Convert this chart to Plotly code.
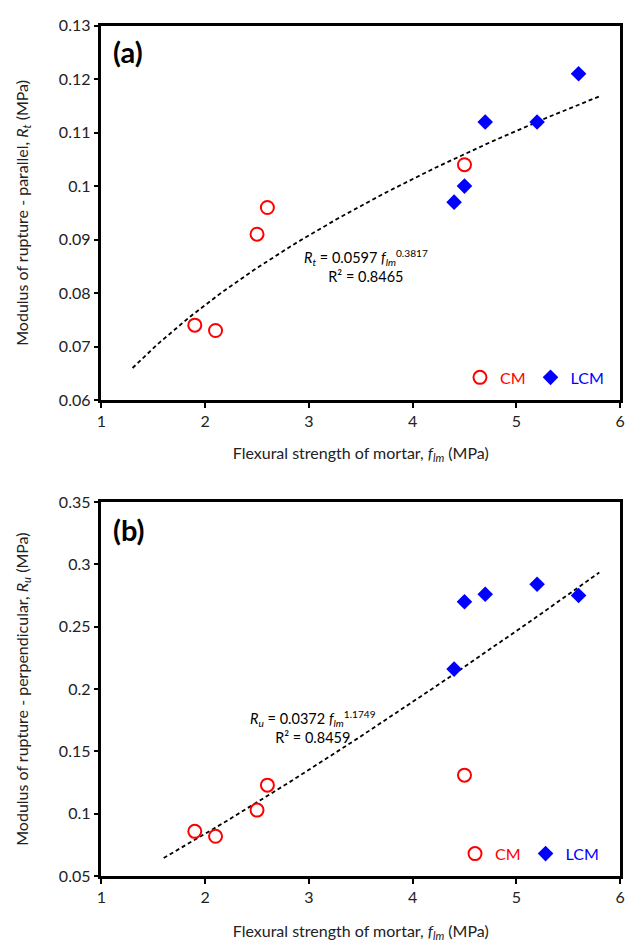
import numpy as np
import plotly.graph_objects as go

# Flexural strength of mortar (MPa)
cm_flm = [1.9, 2.1, 2.5, 2.6, 4.5]
lcm_flm = [4.4, 4.5, 4.7, 5.2, 5.6]

# (a) modulus of rupture parallel to bed joints, Rt (MPa)
cm_rt = [0.074, 0.073, 0.091, 0.096, 0.104]
lcm_rt = [0.097, 0.100, 0.112, 0.112, 0.121]

# (b) modulus of rupture perpendicular to bed joints, Ru (MPa)
cm_ru = [0.086, 0.082, 0.103, 0.123, 0.131]
lcm_ru = [0.216, 0.270, 0.276, 0.284, 0.275]

# power-law fits  R = a * f_lm ** b
fit_a = {"coef": 0.0597, "exp": 0.3817, "r2": 0.8465, "xmin": 1.3, "xmax": 5.8}
fit_b = {"coef": 0.0372, "exp": 1.1749, "r2": 0.8459, "xmin": 1.6, "xmax": 5.8}

FONT = "Lato, 'Open Sans', sans-serif"
RED = "#ff0000"
BLUE = "#0000ff"
W, H = 629, 946

fig = go.Figure()


def add_panel(xref, yref, cm_y, lcm_y, fit, legend):
    xs = np.linspace(fit["xmin"], fit["xmax"], 120)
    fig.add_trace(go.Scatter(
        x=xs, y=fit["coef"] * xs ** fit["exp"], mode="lines",
        line=dict(color="black", width=1.8, dash="4px,3px"),
        showlegend=False, xaxis=xref, yaxis=yref, hoverinfo="skip"))
    fig.add_trace(go.Scatter(
        x=cm_flm, y=cm_y, mode="markers",
        name=f"<span style='color:{RED}'>CM</span>",
        marker=dict(symbol="circle-open", size=13, color=RED, line=dict(width=2, color=RED)),
        xaxis=xref, yaxis=yref, legend=legend))
    fig.add_trace(go.Scatter(
        x=lcm_flm, y=lcm_y, mode="markers",
        name=f"<span style='color:{BLUE}'>LCM</span>",
        marker=dict(symbol="diamond", size=12, color=BLUE),
        xaxis=xref, yaxis=yref, legend=legend))


add_panel("x", "y", cm_rt, lcm_rt, fit_a, "legend")
add_panel("x2", "y2", cm_ru, lcm_ru, fit_b, "legend2")

x_dom = [98 / W, 625 / W]
top_dom = [1 - 398 / H, 1 - 16 / H]
bot_dom = [1 - 884 / H, 1 - 502 / H]

axis_common = dict(
    showline=True, linecolor="black", linewidth=2.5, mirror=True,
    ticks="outside", ticklen=5, tickwidth=2, tickcolor="black",
    showgrid=False, zeroline=False, ticklabeloverflow="allow",
    tickfont=dict(family=FONT, size=16, color="#222"),
    title_font=dict(family=FONT, size=16, color="#222"),
)

xtitle = "Flexural strength of mortar, <i>f<sub>lm</sub></i> (MPa)"

fig.update_layout(
    width=W, height=H,
    margin=dict(l=0, r=0, t=0, b=0),
    plot_bgcolor="white", paper_bgcolor="white",
    font=dict(family=FONT, color="#222"),
    xaxis=dict(axis_common, domain=x_dom, anchor="y", range=[1, 6], dtick=1,
               title=dict(text=xtitle, standoff=19)),
    yaxis=dict(axis_common, domain=top_dom, anchor="x", range=[0.06, 0.13], dtick=0.01,
               title=dict(text="Modulus of rupture - parallel, <i>R<sub>t</sub></i> (MPa)", standoff=27)),
    xaxis2=dict(axis_common, domain=x_dom, anchor="y2", range=[1, 6], dtick=1,
                title=dict(text=xtitle, standoff=21)),
    yaxis2=dict(axis_common, domain=bot_dom, anchor="x2", range=[0.05, 0.35], dtick=0.05,
                title=dict(text="Modulus of rupture - perpendicular, <i>R<sub>u</sub></i> (MPa)", standoff=27)),
    legend=dict(orientation="h", x=0.735, y=top_dom[0] + 0.006, xanchor="left", yanchor="bottom",
                bgcolor="rgba(0,0,0,0)", itemwidth=30,
                font=dict(family=FONT, size=16)),
    legend2=dict(orientation="h", x=0.727, y=bot_dom[0] + 0.006, xanchor="left", yanchor="bottom",
                 bgcolor="rgba(0,0,0,0)", itemwidth=30,
                 font=dict(family=FONT, size=16)),
)

annotations = [
    dict(text="<b>(a)</b>", x=0.018, y=0.932, xref="x domain", yref="y domain",
         showarrow=False, xanchor="left", yanchor="middle",
         font=dict(family=FONT, size=29, color="black")),
    dict(text="<b>(b)</b>", x=0.018, y=0.927, xref="x2 domain", yref="y2 domain",
         showarrow=False, xanchor="left", yanchor="middle",
         font=dict(family=FONT, size=29, color="black")),
    dict(text=(f"<i>R<sub>t</sub></i> = {fit_a['coef']} <i>f<sub>lm</sub></i>"
               f"<sup>{fit_a['exp']}</sup><br>R² = {fit_a['r2']}"),
         x=3.55, y=0.0850, xref="x", yref="y", showarrow=False, align="center",
         font=dict(family=FONT, size=14.5, color="black")),
    dict(text=(f"<i>R<sub>u</sub></i> = {fit_b['coef']} <i>f<sub>lm</sub></i>"
               f"<sup>{fit_b['exp']}</sup><br>R² = {fit_b['r2']}"),
         x=3.04, y=0.170, xref="x2", yref="y2", showarrow=False, align="center",
         font=dict(family=FONT, size=14.5, color="black")),
]
fig.update_layout(annotations=annotations)

fig.write_html("out.html")
